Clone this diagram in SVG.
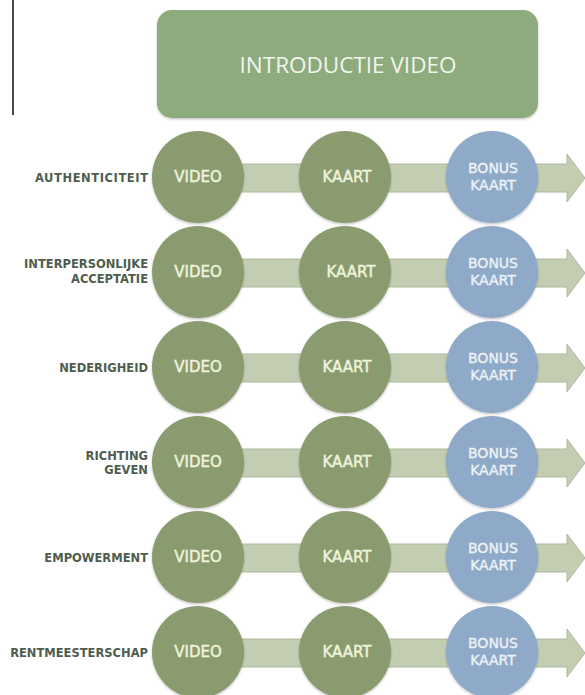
<svg xmlns="http://www.w3.org/2000/svg" width="585" height="695" viewBox="0 0 585 695">
<defs>
<filter id="sh" x="-10%" y="-10%" width="120%" height="125%">
<feDropShadow dx="0" dy="1.2" stdDeviation="1" flood-color="#000" flood-opacity="0.25"/>
</filter>
<polygon id="arr" points="198,-14 567,-14 567,-24 585,0 567,24 567,14 198,14"/>
</defs>
<style>
.lbl{font-family:"DejaVu Sans",sans-serif;font-weight:bold;font-size:11.5px;fill:#4e5d4e;text-anchor:end}
.ct{font-family:"DejaVu Sans",sans-serif;font-size:15px;fill:#eef4dc;stroke:#eef4dc;stroke-width:0.45;text-anchor:middle}
.bt{font-family:"DejaVu Sans",sans-serif;font-size:14px;fill:#eef2f6;stroke:#eef2f6;stroke-width:0.35;text-anchor:middle}
.g{fill:#8b9b70}
.b{fill:#8eaac8}
.shaft{fill:#c3cdb2;stroke:#aeb99c;stroke-width:1}
</style>
<rect width="585" height="695" fill="#ffffff"/>
<line x1="13" y1="0" x2="13" y2="115" stroke="#4a4a4a" stroke-width="2"/>
<g id="intro">
<rect x="157" y="10" width="381" height="108" rx="15" fill="#8dab7b" filter="url(#sh)"/>
<text x="348" y="73" font-family="'Open Sans',sans-serif" font-size="22.5" fill="#f2f5ee" text-anchor="middle">INTRODUCTIE VIDEO</text>
</g>
<g id="connectors">
<use href="#arr" class="shaft" transform="translate(0,178)"/>
<use href="#arr" class="shaft" transform="translate(0,273)"/>
<use href="#arr" class="shaft" transform="translate(0,368)"/>
<use href="#arr" class="shaft" transform="translate(0,463)"/>
<use href="#arr" class="shaft" transform="translate(0,558)"/>
<use href="#arr" class="shaft" transform="translate(0,653)"/>
</g>
<g id="labels">
<text class="lbl" x="148" y="181.5" textLength="113" lengthAdjust="spacing">AUTHENTICITEIT</text>
<text class="lbl" x="148" y="268">INTERPERSONLIJKE</text>
<text class="lbl" x="148" y="283">ACCEPTATIE</text>
<text class="lbl" x="148" y="371.5">NEDERIGHEID</text>
<text class="lbl" x="148" y="460">RICHTING</text>
<text class="lbl" x="148" y="474">GEVEN</text>
<text class="lbl" x="148" y="561.5">EMPOWERMENT</text>
<text class="lbl" x="148" y="656.5">RENTMEESTERSCHAP</text>
</g>
<g id="row1">
<g id="video1"><circle class="g" cx="198" cy="177" r="46" filter="url(#sh)"/><text class="ct" x="198" y="182">VIDEO</text></g>
<g id="kaart1"><circle class="g" cx="345" cy="177" r="46" filter="url(#sh)"/><text class="ct" x="347" y="182">KAART</text></g>
<g id="bonus1"><circle class="b" cx="492" cy="177" r="46" filter="url(#sh)"/><text class="bt" x="493" y="173">BONUS</text><text class="bt" x="493" y="190">KAART</text></g>
</g>
<g id="row2">
<g id="video2"><circle class="g" cx="198" cy="272" r="46" filter="url(#sh)"/><text class="ct" x="198" y="277">VIDEO</text></g>
<g id="kaart2"><circle class="g" cx="345" cy="272" r="46" filter="url(#sh)"/><text class="ct" x="351" y="277">KAART</text></g>
<g id="bonus2"><circle class="b" cx="492" cy="272" r="46" filter="url(#sh)"/><text class="bt" x="493" y="268">BONUS</text><text class="bt" x="493" y="285">KAART</text></g>
</g>
<g id="row3">
<g id="video3"><circle class="g" cx="198" cy="367" r="46" filter="url(#sh)"/><text class="ct" x="198" y="372">VIDEO</text></g>
<g id="kaart3"><circle class="g" cx="345" cy="367" r="46" filter="url(#sh)"/><text class="ct" x="347" y="372">KAART</text></g>
<g id="bonus3"><circle class="b" cx="492" cy="367" r="46" filter="url(#sh)"/><text class="bt" x="493" y="363">BONUS</text><text class="bt" x="493" y="380">KAART</text></g>
</g>
<g id="row4">
<g id="video4"><circle class="g" cx="198" cy="462" r="46" filter="url(#sh)"/><text class="ct" x="198" y="467">VIDEO</text></g>
<g id="kaart4"><circle class="g" cx="345" cy="462" r="46" filter="url(#sh)"/><text class="ct" x="347" y="467">KAART</text></g>
<g id="bonus4"><circle class="b" cx="492" cy="462" r="46" filter="url(#sh)"/><text class="bt" x="493" y="458">BONUS</text><text class="bt" x="493" y="475">KAART</text></g>
</g>
<g id="row5">
<g id="video5"><circle class="g" cx="198" cy="557" r="46" filter="url(#sh)"/><text class="ct" x="198" y="562">VIDEO</text></g>
<g id="kaart5"><circle class="g" cx="345" cy="557" r="46" filter="url(#sh)"/><text class="ct" x="347" y="562">KAART</text></g>
<g id="bonus5"><circle class="b" cx="492" cy="557" r="46" filter="url(#sh)"/><text class="bt" x="493" y="553">BONUS</text><text class="bt" x="493" y="570">KAART</text></g>
</g>
<g id="row6">
<g id="video6"><circle class="g" cx="198" cy="652" r="46" filter="url(#sh)"/><text class="ct" x="198" y="657">VIDEO</text></g>
<g id="kaart6"><circle class="g" cx="345" cy="652" r="46" filter="url(#sh)"/><text class="ct" x="347" y="657">KAART</text></g>
<g id="bonus6"><circle class="b" cx="492" cy="652" r="46" filter="url(#sh)"/><text class="bt" x="493" y="648">BONUS</text><text class="bt" x="493" y="665">KAART</text></g>
</g>
</svg>
